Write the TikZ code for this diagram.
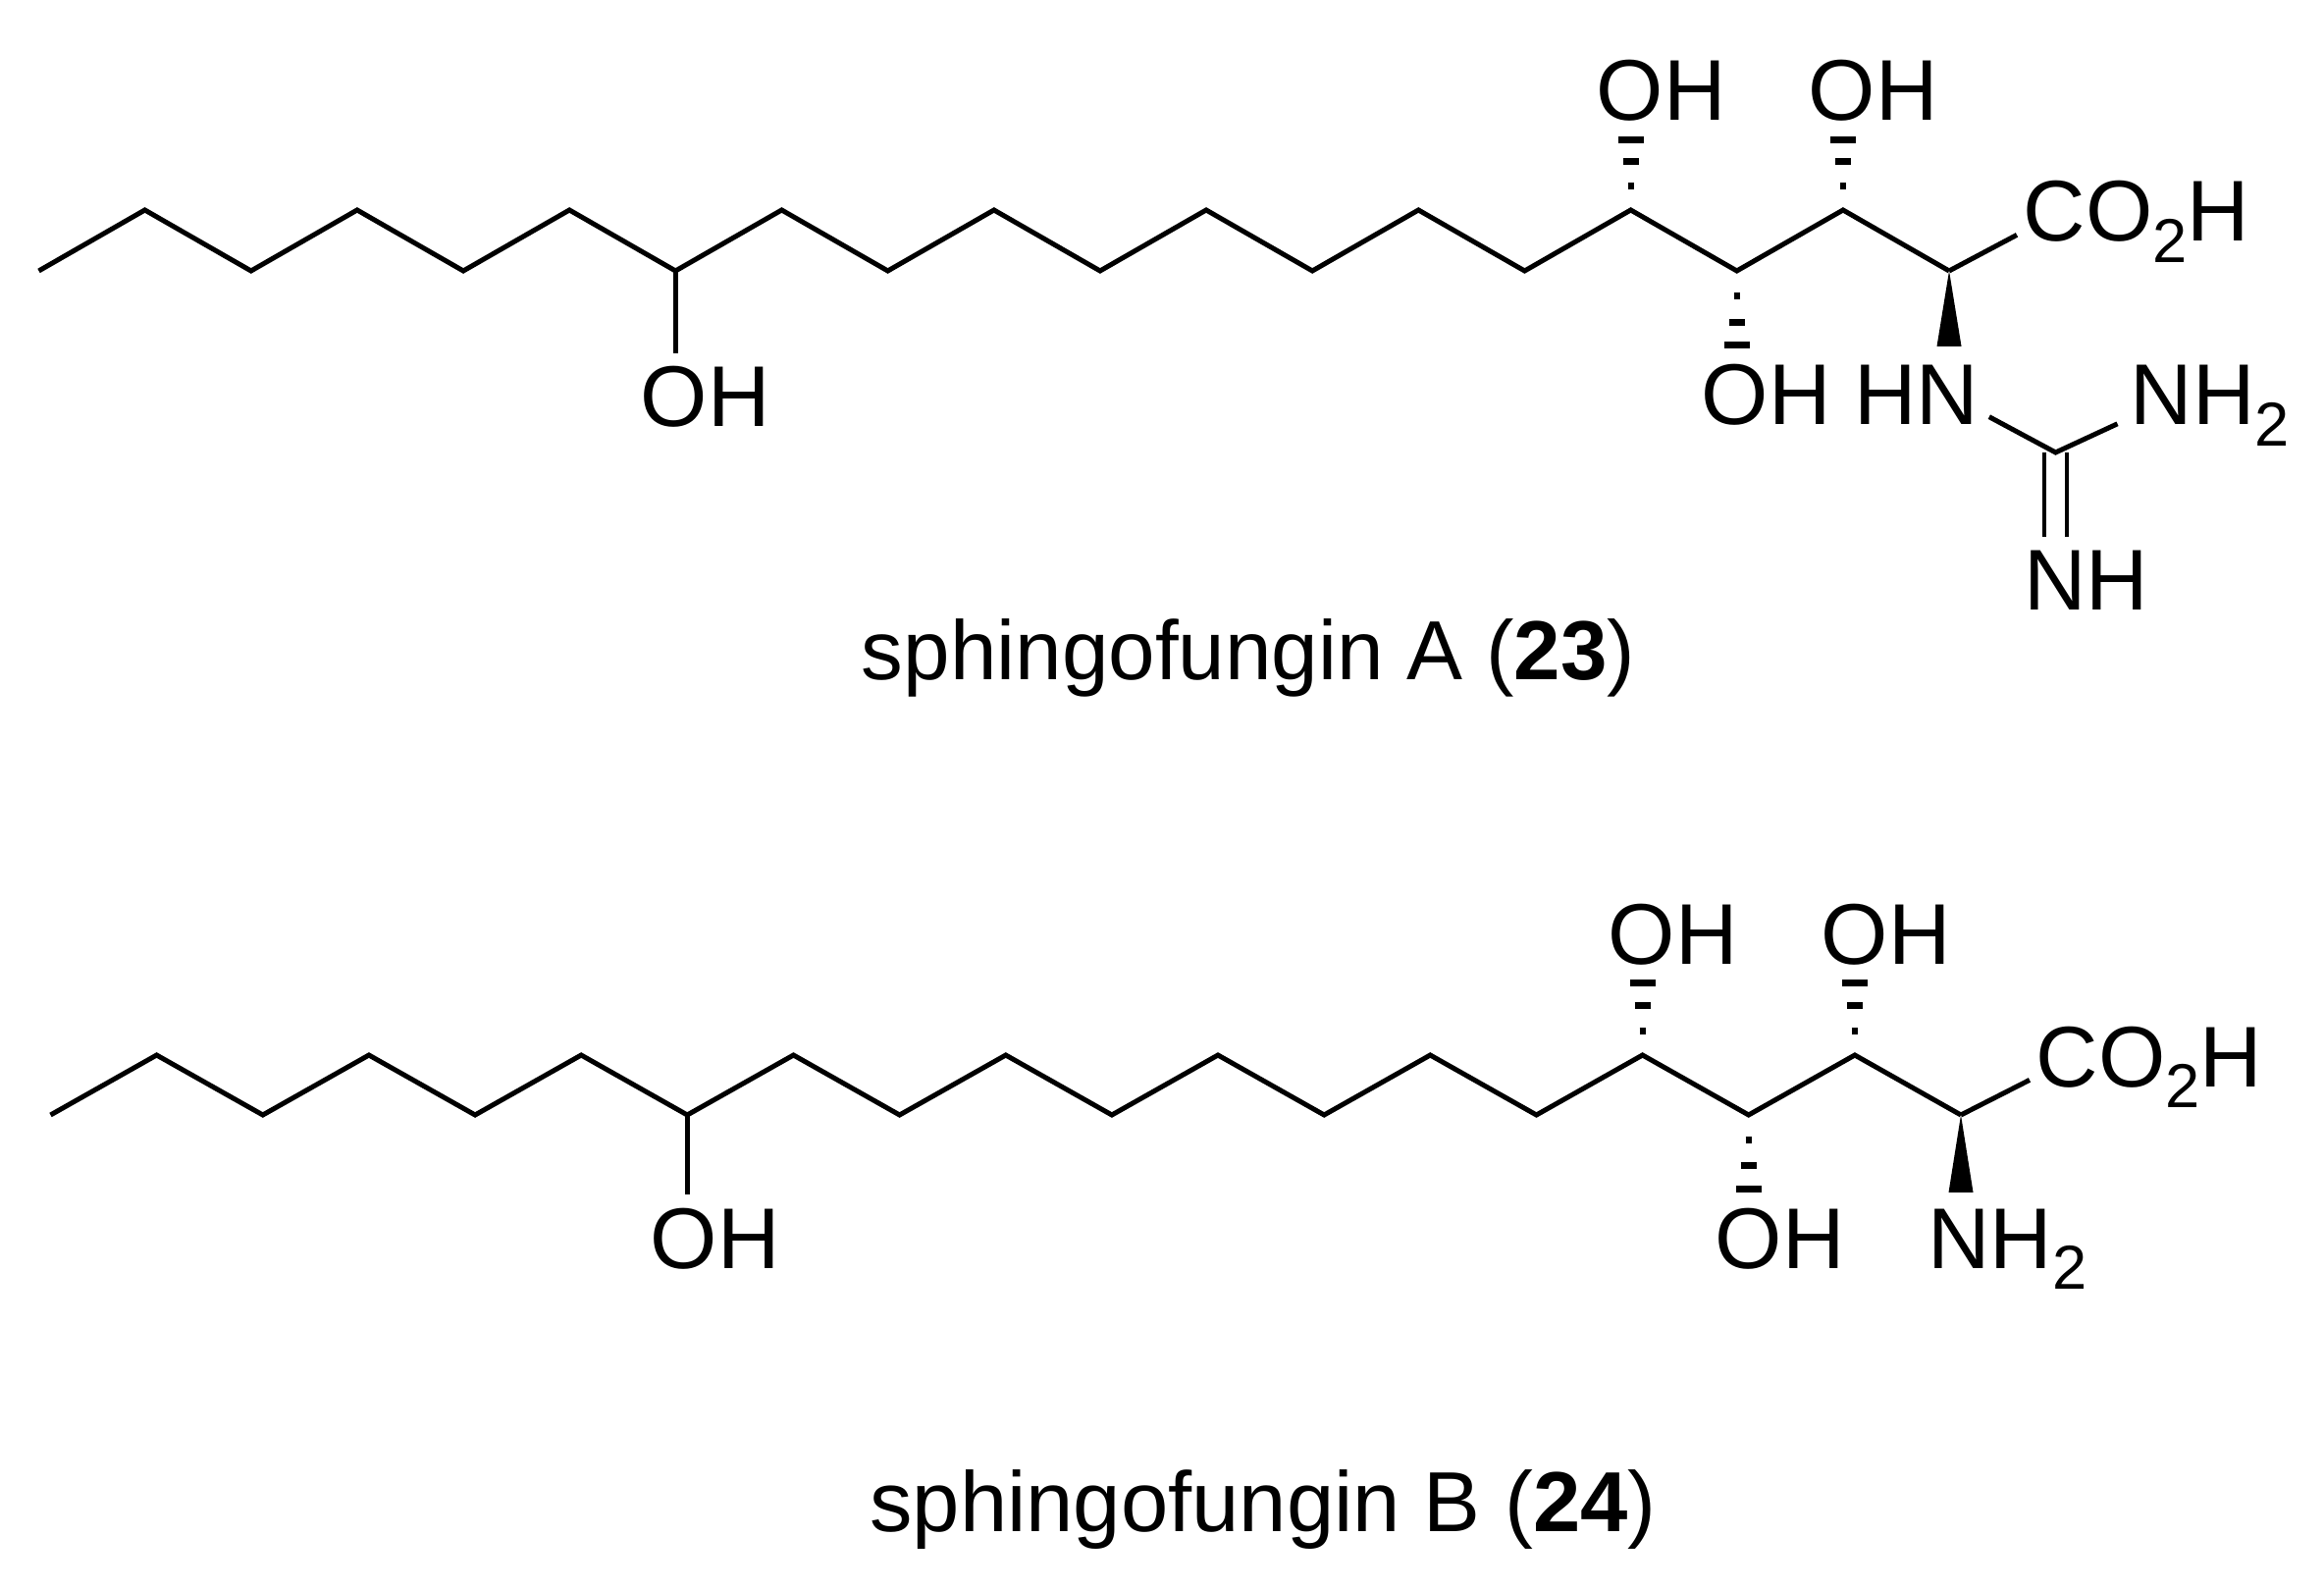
\documentclass[tikz,border=0pt]{standalone}
\usepackage{fontspec}
\setmainfont{Liberation Sans}
\usetikzlibrary{calc}
\tikzset{
	bond/.style={line width=0.05cm},
	hashbar/.style={line width=0.07cm},
	atom/.style={inner sep=0pt, anchor=base west, font=\fontsize{25}{30}\selectfont},
	caption/.style={inner sep=0pt, anchor=base, font=\fontsize{24.3}{29}\selectfont}
}
\newcommand{\subtwo}{\raisebox{-6pt}{\fontsize{18}{18}\selectfont 2}}
\newcommand{\hashbond}[2]{
	\foreach \f/\w in {0.27/0.03, 0.55/0.08, 0.8/0.13}
		\draw [hashbar] ($(#1)!\f!(#1 |- #2)+(-\w,0)$) -- ($(#1)!\f!(#1 |- #2)+(\w,0)$);
}
\begin{document}
\begin{tikzpicture}
		\useasboundingbox (0,0) rectangle (23.68,16.19);
		\coordinate (a0) at (0.395,13.43);
		\coordinate (a1) at (1.476,14.05);
		\coordinate (a2) at (2.558,13.43);
		\coordinate (a3) at (3.639,14.05);
		\coordinate (a4) at (4.721,13.43);
		\coordinate (a5) at (5.802,14.05);
		\coordinate (a6) at (6.883,13.43);
		\coordinate (a7) at (7.965,14.05);
		\coordinate (a8) at (9.046,13.43);
		\coordinate (a9) at (10.128,14.05);
		\coordinate (a10) at (11.209,13.43);
		\coordinate (a11) at (12.29,14.05);
		\coordinate (a12) at (13.372,13.43);
		\coordinate (a13) at (14.453,14.05);
		\coordinate (a14) at (15.535,13.43);
		\coordinate (a15) at (16.616,14.05);
		\coordinate (a16) at (17.697,13.43);
		\coordinate (a17) at (18.779,14.05);
		\coordinate (a18) at (19.86,13.43);
		\coordinate (g1) at (20.945,11.58);
		\node [atom] (oh6) at (6.52,11.84) {OH};
		\node [atom] (oh15) at (16.26,14.96) {OH};
		\node [atom] (oh16) at (17.33,11.86) {OH};
		\node [atom] (oh17) at (18.42,14.96) {OH};
		\node [atom] (co2h) at (20.61,13.73) {CO\subtwo H};
		\node [atom] (hn) at (18.885,11.86) {HN};
		\node [atom] (nh2) at (21.70,11.86) {NH\subtwo};
		\node [atom] (nh) at (20.615,9.97) {NH};
		\node [caption] (namea) at (12.72,9.26) {sphingofungin A (\textbf{23})};
		\draw [bond] (a0) -- (a1) -- (a2) -- (a3) -- (a4) -- (a5) -- (a6) -- (a7) -- (a8) -- (a9) -- (a10) -- (a11) -- (a12) -- (a13) -- (a14) -- (a15) -- (a16) -- (a17) -- (a18);
		\draw [bond, shorten >=0.13cm] (a6) -- (a6 |- oh6.north);
		\draw [bond] (a18) -- ($(co2h.west)+(-0.06,-0.135)$);
		\fill (a18) -- ($(a18 |- hn.north)+(-0.125,0.19)$) -- ($(a18 |- hn.north)+(0.125,0.19)$) -- cycle;
		\hashbond{a15}{oh15.south}
		\hashbond{a16}{oh16.north}
		\hashbond{a17}{oh17.south}
		\draw [line width=0.035cm, double, double distance=0.195cm, shorten >=0.14cm] (g1) -- (g1 |- nh.north);
		\draw [bond] ($(hn.south east)+(0.10,0.09)$) -- (g1) -- ($(nh2.west)+(-0.125,-0.185)$);
		\coordinate (b0) at (0.515,4.83);
		\coordinate (b1) at (1.596,5.44);
		\coordinate (b2) at (2.678,4.83);
		\coordinate (b3) at (3.759,5.44);
		\coordinate (b4) at (4.841,4.83);
		\coordinate (b5) at (5.922,5.44);
		\coordinate (b6) at (7.003,4.83);
		\coordinate (b7) at (8.085,5.44);
		\coordinate (b8) at (9.166,4.83);
		\coordinate (b9) at (10.248,5.44);
		\coordinate (b10) at (11.329,4.83);
		\coordinate (b11) at (12.41,5.44);
		\coordinate (b12) at (13.492,4.83);
		\coordinate (b13) at (14.573,5.44);
		\coordinate (b14) at (15.655,4.83);
		\coordinate (b15) at (16.736,5.44);
		\coordinate (b16) at (17.817,4.83);
		\coordinate (b17) at (18.899,5.44);
		\coordinate (b18) at (19.98,4.83);
		\node [atom] (oh6b) at (6.62,3.27) {OH};
		\node [atom] (oh15b) at (16.38,6.37) {OH};
		\node [atom] (oh16b) at (17.47,3.27) {OH};
		\node [atom] (oh17b) at (18.55,6.37) {OH};
		\node [atom] (co2hb) at (20.74,5.12) {CO\subtwo H};
		\node [atom] (nh2b) at (19.635,3.27) {NH\subtwo};
		\node [caption, font=\fontsize{24.7}{29}\selectfont] (nameb) at (12.87,0.59) {sphingofungin B (\textbf{24})};
		\draw [bond] (b0) -- (b1) -- (b2) -- (b3) -- (b4) -- (b5) -- (b6) -- (b7) -- (b8) -- (b9) -- (b10) -- (b11) -- (b12) -- (b13) -- (b14) -- (b15) -- (b16) -- (b17) -- (b18);
		\draw [bond, shorten >=0.13cm] (b6) -- (b6 |- oh6b.north);
		\draw [bond] (b18) -- ($(co2hb.west)+(-0.06,-0.135)$);
		\fill (b18) -- ($(b18 |- nh2b.north)+(-0.125,0.16)$) -- ($(b18 |- nh2b.north)+(0.125,0.16)$) -- cycle;
		\hashbond{b15}{oh15b.south}
		\hashbond{b16}{oh16b.north}
		\hashbond{b17}{oh17b.south}
\end{tikzpicture}
\end{document}
